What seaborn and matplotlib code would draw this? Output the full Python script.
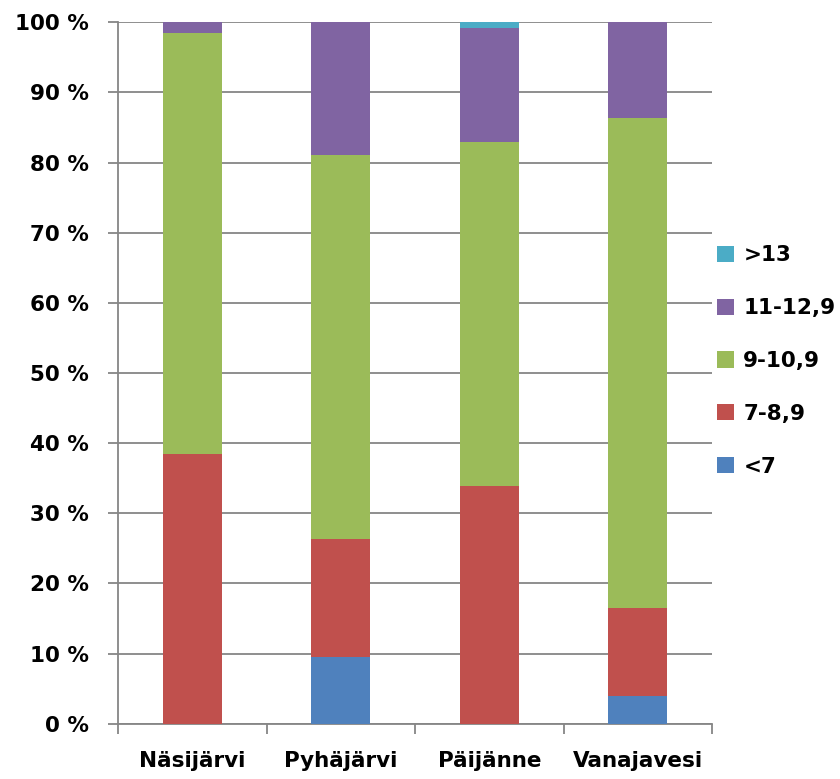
import matplotlib
matplotlib.use("Agg")
import matplotlib.pyplot as plt
from matplotlib.patches import Patch
import seaborn as sns
import pandas as pd
import numpy as np

categories = ["Näsijärvi", "Pyhäjärvi", "Päijänne", "Vanajavesi"]
series_names = ["<7", "7-8,9", "9-10,9", "11-12,9", ">13"]
lt7 = [0.0, 9.5, 0.0, 3.9]
s7_89 = [38.4, 16.9, 33.9, 12.6]
s9_109 = [60.1, 54.7, 49.0, 69.9]
s11_129 = [1.5, 18.9, 16.3, 13.6]
gt13 = [0.0, 0.0, 0.8, 0.0]
colors = ["#4F81BD", "#C0504D", "#9BBB59", "#8064A2", "#4BACC6"]
ytick_vals = list(range(0, 101, 10))
ytick_labels = [f"{v} %" for v in ytick_vals]

sns.set_theme(style="white")
plt.rcParams["font.family"] = ["DejaVu Sans"]
plt.rcParams["text.color"] = "black"
plt.rcParams["xtick.labelcolor"] = "black"
plt.rcParams["ytick.labelcolor"] = "black"

values = np.array([lt7, s7_89, s9_109, s11_129, gt13])
cum = np.cumsum(values, axis=0)

fig = plt.figure(figsize=(8.4, 7.79), dpi=100)
ax = fig.add_axes([118 / 840, 1 - 723.7 / 779, (712 - 118) / 840, (723.7 - 22.3) / 779])

for i in range(len(series_names) - 1, -1, -1):
    df = pd.DataFrame({"lake": categories, "cum": cum[i]})
    sns.barplot(data=df, x="lake", y="cum", order=categories, color=colors[i],
                width=0.4, saturation=1, ax=ax, zorder=3, linewidth=0)

ax.set_xlim(-0.5, 3.5)
ax.set_ylim(0, 100)
ax.set_xlabel("")
ax.set_ylabel("")
ax.set_yticks(ytick_vals)
ax.set_yticklabels(ytick_labels, fontsize=15.5, fontweight="bold", color="black")
ax.set_xticks(range(len(categories)))
ax.set_xticklabels(categories, fontsize=15.5, fontweight="bold", color="black")
ax.set_xticks(np.arange(-0.5, 3.6, 1.0), minor=True)

grid_c = "#868686"
ax.yaxis.grid(True, color=grid_c, linewidth=1.3, zorder=0)
ax.xaxis.grid(False)
ax.set_axisbelow(True)
for side in ["top", "right"]:
    ax.spines[side].set_visible(False)
for side in ["left", "bottom"]:
    ax.spines[side].set_visible(True)
    ax.spines[side].set_color(grid_c)
    ax.spines[side].set_linewidth(1.3)

ax.tick_params(axis="y", which="major", direction="out", length=7, width=1.3,
               color=grid_c, pad=14, left=True)
ax.tick_params(axis="x", which="major", length=0, pad=20, bottom=True)
ax.tick_params(axis="x", which="minor", direction="out", length=7, width=1.3,
               color=grid_c, bottom=True)

handles = [Patch(facecolor=colors[i], edgecolor="none", label=series_names[i])
           for i in range(len(series_names) - 1, -1, -1)]
leg = fig.legend(handles=handles, loc="center left",
                 bbox_to_anchor=(717 / 840, 1 - 361 / 779),
                 frameon=False, borderpad=0, borderaxespad=0,
                 handlelength=0.77, handleheight=0.77, handletextpad=0.45,
                 labelspacing=1.53, prop={"size": 15.5, "weight": "bold"})
for t in leg.get_texts():
    t.set_color("black")

fig.savefig("out.png", dpi=100)
